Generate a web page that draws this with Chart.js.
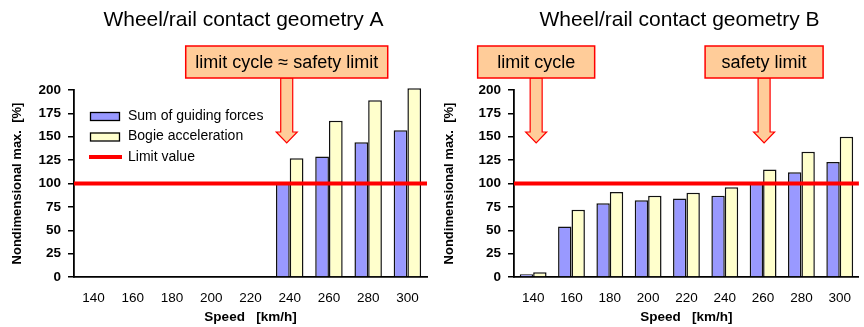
<!DOCTYPE html>
<html>
<head>
<meta charset="utf-8">
<script src="https://cdn.jsdelivr.net/npm/chart.js@4.4.0/dist/chart.umd.min.js"></script>
<style>
  body { margin: 0; background: #fff; }
  #wrap { position: relative; width: 864px; height: 327px; overflow: hidden; }
  .pane { position: absolute; top: 0; width: 432px; height: 327px; }
</style>
</head>
<body>
<div id="wrap">
  <div class="pane" style="left:0"><canvas id="chartA" width="432" height="327"></canvas></div>
  <div class="pane" style="left:432px"><canvas id="chartB" width="432" height="327"></canvas></div>
</div>
<script>
// data
const speeds = ['140', '160', '180', '200', '220', '240', '260', '280', '300'];
const guidingA = [null, null, null, null, null, 101, 129, 144, 157];
const bogieA   = [null, null, null, null, null, 127, 167, 189, 202];
const guidingB = [3, 54, 79, 82, 84, 87, 101, 112, 123];
const bogieB   = [5, 72, 91, 87, 90, 96, 115, 134, 150];
const limitValue = 100;
const seriesNames = ['Sum of guiding forces', 'Bogie acceleration', 'Limit value'];
const titles = ['Wheel/rail contact geometry A', 'Wheel/rail contact geometry B'];

const BLUE = '#9999FF';
const YELLOW = '#FFFFCC';
const RED = '#FF0000';
const PEACH = '#FFCC99';

// red limit line over the bars, full plot width
const limitLine = {
  id: 'limitLine',
  afterDatasetsDraw(chart) {
    const { ctx, chartArea } = chart;
    const y = chart.scales.y.getPixelForValue(limitValue);
    ctx.save();
    ctx.strokeStyle = RED;
    ctx.lineWidth = 4;
    ctx.beginPath();
    ctx.moveTo(chartArea.left, y);
    ctx.lineTo(chartArea.right, y);
    ctx.stroke();
    ctx.restore();
  }
};

const topTitle = {
  id: 'topTitle',
  afterDraw(chart, args, opts) {
    const { ctx, chartArea } = chart;
    ctx.save();
    ctx.font = '21px "Liberation Sans", Arial, sans-serif';
    ctx.fillStyle = '#000';
    ctx.textAlign = 'center';
    ctx.textBaseline = 'alphabetic';
    ctx.fillText(opts.text, (chartArea.left + chartArea.right) / 2 - 7, 26);
    ctx.restore();
  }
};

// legend inside the plot (left chart only)
const innerLegend = {
  id: 'innerLegend',
  afterDraw(chart, args, opts) {
    if (!opts.show) return;
    const ctx = chart.ctx;
    const ds = chart.data.datasets;
    ctx.save();
    ctx.font = '14px "Liberation Sans", Arial, sans-serif';
    ctx.textBaseline = 'middle';
    ctx.textAlign = 'left';
    const rows = [116, 136.5, 157];
    for (let i = 0; i < 2; i++) {
      ctx.fillStyle = ds[i].backgroundColor;
      ctx.fillRect(90, rows[i] - 4, 29, 8);
      ctx.strokeStyle = '#000';
      ctx.lineWidth = 1.3;
      ctx.strokeRect(90.5, rows[i] - 4 + 0.5, 29, 8);
      ctx.fillStyle = '#000';
      ctx.fillText(ds[i].label, 128, rows[i]);
    }
    ctx.strokeStyle = RED;
    ctx.lineWidth = 4;
    ctx.beginPath();
    ctx.moveTo(89, rows[2]);
    ctx.lineTo(122, rows[2]);
    ctx.stroke();
    ctx.fillStyle = '#000';
    ctx.fillText(seriesNames[2], 128, rows[2]);
    ctx.restore();
  }
};

// boxed labels with arrows pointing down at a speed
const callouts = {
  id: 'callouts',
  afterDraw(chart, args, opts) {
    const ctx = chart.ctx;
    const x = chart.scales.x;
    (opts.items || []).forEach(c => {
      const cx = x.getPixelForValue(speeds.indexOf(c.at)) + c.dx;
      const boxTop = 46, boxBot = 78, shaftEnd = 132, tip = 143;
      ctx.save();
      ctx.fillStyle = PEACH;
      ctx.strokeStyle = RED;
      ctx.lineWidth = 1.2;
      ctx.beginPath();
      ctx.moveTo(cx - 6, boxBot);
      ctx.lineTo(cx - 6, shaftEnd);
      ctx.lineTo(cx - 10.5, shaftEnd);
      ctx.lineTo(cx, tip);
      ctx.lineTo(cx + 10.5, shaftEnd);
      ctx.lineTo(cx + 6, shaftEnd);
      ctx.lineTo(cx + 6, boxBot);
      ctx.closePath();
      ctx.fill();
      ctx.stroke();
      ctx.fillRect(cx - c.w / 2, boxTop, c.w, boxBot - boxTop);
      ctx.lineWidth = 1.5;
      ctx.strokeRect(cx - c.w / 2, boxTop, c.w, boxBot - boxTop);
      ctx.fillStyle = '#000';
      ctx.font = '18px "Liberation Sans", Arial, sans-serif';
      ctx.textAlign = 'center';
      ctx.textBaseline = 'middle';
      ctx.fillText(c.text, cx, (boxTop + boxBot) / 2 + 1);
      ctx.restore();
    });
  }
};

function makeChart(id, guiding, bogie, title, axisW, padRight, items, showLegend) {
  return new Chart(document.getElementById(id), {
    type: 'bar',
    data: {
      labels: speeds,
      datasets: [
        { label: seriesNames[0], data: guiding, backgroundColor: BLUE, borderColor: '#111', borderWidth: 1.5, clip: false },
        { label: seriesNames[1], data: bogie, backgroundColor: YELLOW, borderColor: '#111', borderWidth: 1.5, clip: false }
      ]
    },
    options: {
      responsive: false,
      animation: false,
      categoryPercentage: 0.7,
      barPercentage: 1.0,
      layout: { padding: { top: 90, right: padRight, bottom: 0, left: 0 } },
      plugins: {
        legend: { display: false },
        tooltip: { enabled: false },
        topTitle: { text: title },
        innerLegend: { show: showLegend },
        callouts: { items: items }
      },
      scales: {
        x: {
          grid: { display: false, drawTicks: false },
          border: { display: true, color: '#000', width: 1.8 },
          ticks: { color: '#000', font: { family: '"Liberation Sans", Arial', size: 13.5 }, padding: 13, maxRotation: 0, autoSkip: false },
          title: { display: true, text: 'Speed   [km/h]', color: '#000',
                   font: { family: '"Liberation Sans", Arial', size: 13.5, weight: 'bold' }, padding: { top: 0, bottom: 2 } },
          afterFit(s) { s.height = 50; }
        },
        y: {
          min: 0,
          max: 200,
          grid: { drawOnChartArea: false, drawTicks: true, tickLength: 6, color: '#000', lineWidth: 1.5 },
          border: { display: true, color: '#000', width: 1.8 },
          ticks: { stepSize: 25, color: '#000', font: { family: '"Liberation Sans", Arial', size: 13.5, weight: 'bold' }, padding: 7 },
          title: { display: true, text: 'Nondimensional max.  [%]', color: '#000',
                   font: { family: '"Liberation Sans", Arial', size: 13, weight: 'bold' }, padding: { top: 10, bottom: 0 } },
          afterFit(s) { s.width = axisW; }
        }
      }
    },
    plugins: [limitLine, topTitle, innerLegend, callouts]
  });
}

makeChart('chartA', guidingA, bogieA, titles[0], 74, 5,
  [{ text: 'limit cycle ≈ safety limit', at: '240', dx: -3, w: 202 }], true);
makeChart('chartB', guidingB, bogieB, titles[1], 82, 0,
  [{ text: 'limit cycle', at: '140', dx: 3, w: 117 },
   { text: 'safety limit', at: '260', dx: 1, w: 118 }], false);
</script>
</body>
</html>
